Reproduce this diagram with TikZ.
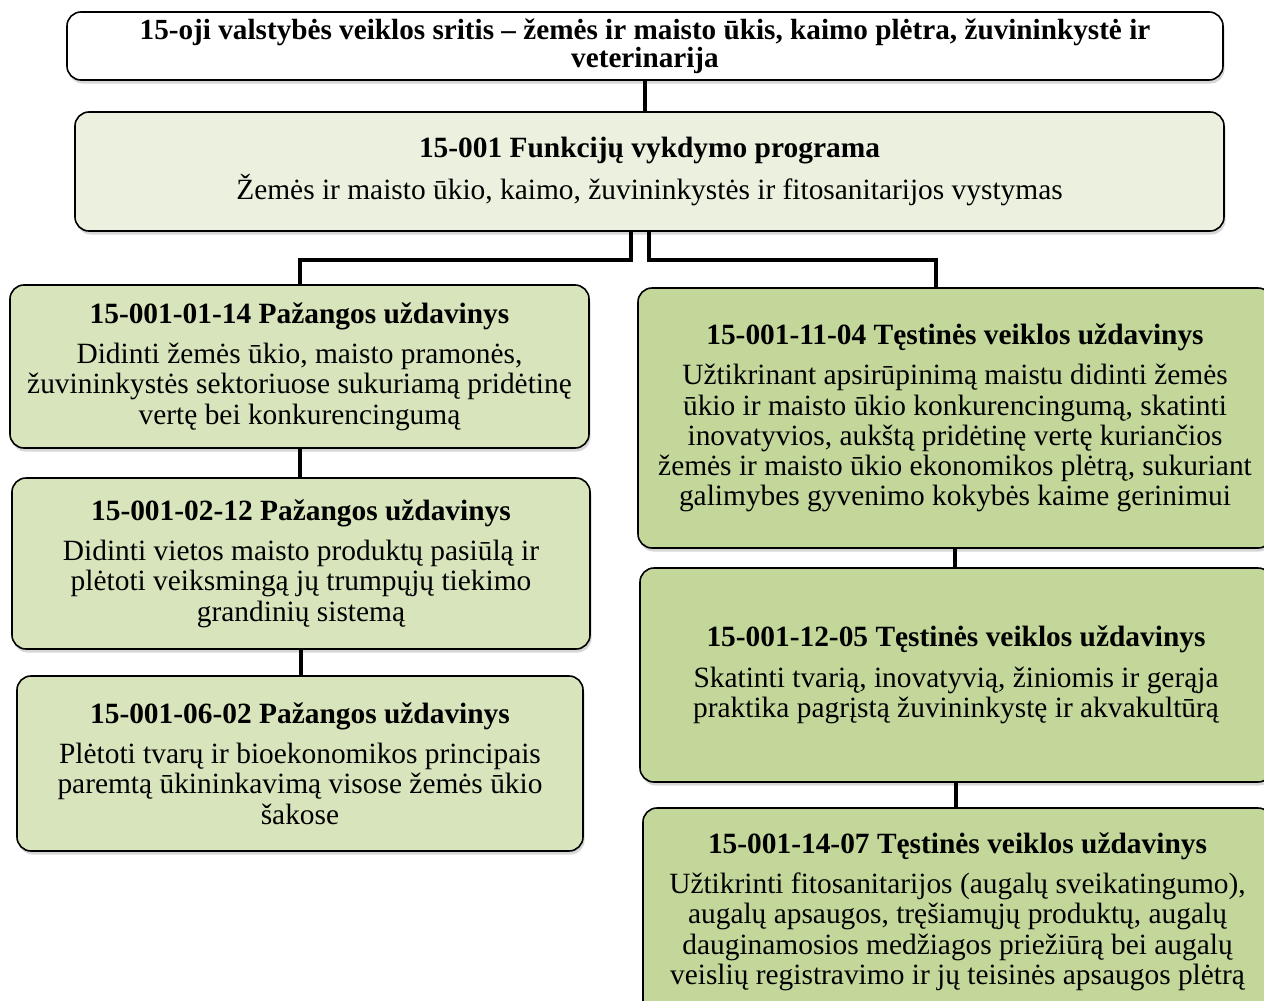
\documentclass[tikz,border=0pt]{standalone}
\usepackage{fontspec}
\setmainfont{Liberation Serif}
\usepackage{xcolor}
\usepackage{tikz}
\usetikzlibrary{shadows,positioning,calc}

\definecolor{progfill}{HTML}{EBF1DE}
\definecolor{pazfill}{HTML}{D8E4BC}
\definecolor{tesfill}{HTML}{C4D79B}

\tikzset{
  box/.style={draw=black, line width=1.6pt, rounded corners=14pt, align=center, inner sep=0pt,
    font=\fontsize{29.4}{30.3}\selectfont,
    drop shadow={shadow xshift=1.5pt, shadow yshift=-3.5pt, fill=black!35, opacity=0.45}},
  areabox/.style={box, fill=white, font=\fontsize{29.2}{28}\selectfont\bfseries},
  progbox/.style={box, fill=progfill},
  pazbox/.style={box, fill=pazfill},
  tesbox/.style={box, fill=tesfill},
  conn/.style={line width=4pt}
}

\begin{document}
\begin{tikzpicture}[x=1pt, y=-1pt]
        \useasboundingbox (0,0) rectangle (1264,1001);

        \node[areabox, minimum width=1156, minimum height=68] (area) at (645,46)
          {15-oji valstybės veiklos sritis – žemės ir maisto ūkis, kaimo plėtra, žuvininkystė ir\\ veterinarija};
        \node[progbox, minimum width=1149, minimum height=119] (prog) at (649.5,171.5)
          {\textbf{15-001 Funkcijų vykdymo programa}\\[10pt] Žemės ir maisto ūkio, kaimo, žuvininkystės ir fitosanitarijos vystymas};

        % pazangos uzdaviniai
        \node[pazbox, minimum width=579, minimum height=163] (paz1) at (299.5,366.5)
          {\textbf{15-001-01-14 Pažangos uždavinys}\\[10pt] Didinti žemės ūkio, maisto pramonės,\\ žuvininkystės sektoriuose sukuriamą pridėtinę\\ vertę bei konkurencingumą};
        \node[pazbox, minimum width=578, minimum height=171] (paz2) at (301,563.5)
          {\textbf{15-001-02-12 Pažangos uždavinys}\\[10pt] Didinti vietos maisto produktų pasiūlą ir\\ plėtoti veiksmingą jų trumpųjų tiekimo\\ grandinių sistemą};
        \node[pazbox, minimum width=566, minimum height=175] (paz3) at (300,763.5)
          {\textbf{15-001-06-02 Pažangos uždavinys}\\[10pt] Plėtoti tvarų ir bioekonomikos principais\\ paremtą ūkininkavimą visose žemės ūkio\\ šakose};

        % testines veiklos uzdaviniai
        \node[tesbox, minimum width=634, minimum height=260] (tes1) at (955,418)
          {\textbf{15-001-11-04 Tęstinės veiklos uždavinys}\\[10pt] Užtikrinant apsirūpinimą maistu didinti žemės\\ ūkio ir maisto ūkio konkurencingumą, skatinti\\ inovatyvios, aukštą pridėtinę vertę kuriančios\\ žemės ir maisto ūkio ekonomikos plėtrą, sukuriant\\ galimybes gyvenimo kokybės kaime gerinimui};
        \node[tesbox, minimum width=632, minimum height=214] (tes2) at (956,675)
          {\textbf{15-001-12-05 Tęstinės veiklos uždavinys}\\[10pt] Skatinti tvarią, inovatyvią, žiniomis ir gerąja\\ praktika pagrįstą žuvininkystę ir akvakultūrą};
        \node[tesbox, minimum width=629, minimum height=207] (tes3) at (957.5,911.5)
          {\textbf{15-001-14-07 Tęstinės veiklos uždavinys}\\[10pt] Užtikrinti fitosanitarijos (augalų sveikatingumo),\\ augalų apsaugos, tręšiamųjų produktų, augalų\\ dauginamosios medžiagos priežiūrą bei augalų\\ veislių registravimo ir jų teisinės apsaugos plėtrą};

        \coordinate (lbr) at (631,260);
        \coordinate (rbr) at (649,260);
        \coordinate (rdrop) at (936,260);

        \draw[conn] (area.south) -- (area.south |- prog.north);
        \draw[conn] (prog.south -| lbr) -- (lbr) -| (paz1.north);
        \draw[conn] (prog.south -| rbr) -- (rbr) -- (rdrop) -- (rdrop |- tes1.north);
        \draw[conn] (paz1.south) -- (paz1.south |- paz2.north);
        \draw[conn] (paz2.south) -- (paz2.south |- paz3.north);
        \draw[conn] (tes1.south) -- (tes1.south |- tes2.north);
        \draw[conn] (tes2.south) -- (tes2.south |- tes3.north);
\end{tikzpicture}
\end{document}
